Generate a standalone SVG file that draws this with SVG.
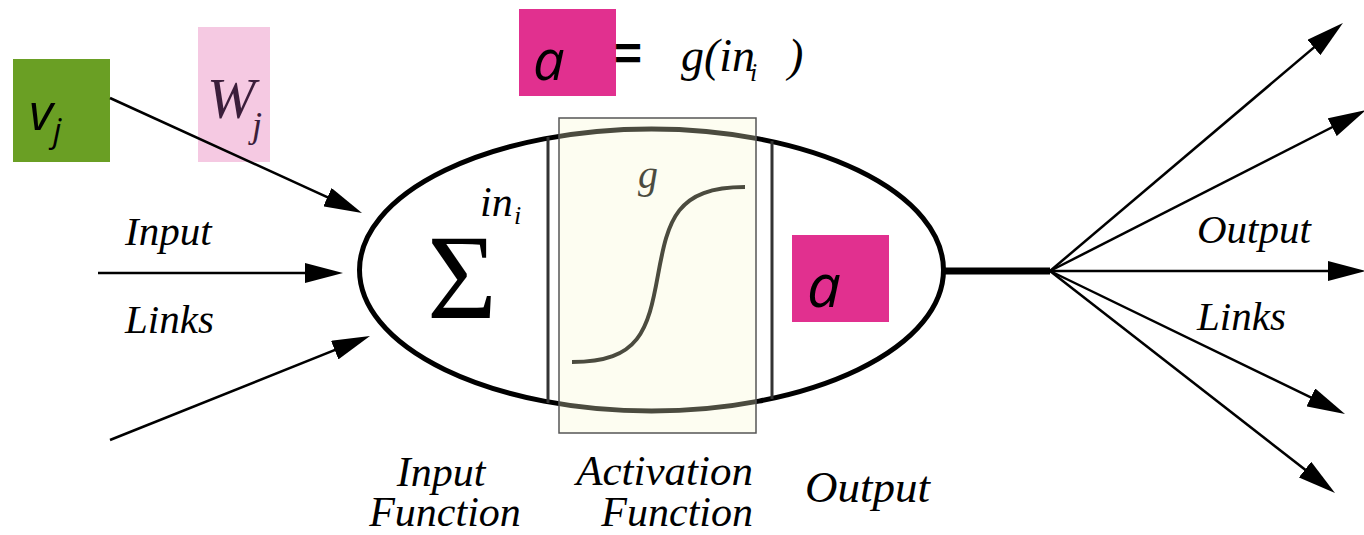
<svg xmlns="http://www.w3.org/2000/svg" width="1364" height="535" viewBox="0 0 1364 535">
  <style>
    .it { font-family: 'Liberation Serif', 'Times New Roman', 'DejaVu Serif', serif; font-style: italic; fill: #000; }
    .rm { font-family: 'Liberation Serif', 'Times New Roman', 'DejaVu Serif', serif; fill: #000; }
    .sans { font-family: 'Open Sans', 'Noto Sans', sans-serif; font-style: italic; fill: #000; }
    .arrow { stroke: #000; stroke-width: 2.5; fill: none; marker-end: url(#ah); }
  </style>
  <defs>
    <marker id="ah" viewBox="0 0 38 20" refX="28" refY="10" markerWidth="38" markerHeight="20" markerUnits="userSpaceOnUse" orient="auto">
      <path d="M0,0 L38,10 L0,20 Z" fill="#000"/>
    </marker>
  </defs>

  <rect width="1364" height="535" fill="#fff"/>

  <!-- weight label box -->
  <g id="weight-label">
    <rect x="198" y="27" width="72" height="135" fill="#f5c9e2"/>
    <text class="it" x="207" y="118" font-size="58" style="fill:#3b1e3b">W<tspan x="252" y="137" font-size="36">j</tspan></text>
  </g>

  <!-- input value box -->
  <g id="input-value">
    <rect x="13" y="59" width="97" height="103" fill="#6a9f24"/>
    <text class="sans" x="29" y="130" font-size="52">v<tspan x="53" y="142" font-size="33">j</tspan></text>
  </g>

  <!-- connectors -->
  <g id="connectors">
    <line class="arrow" x1="110" y1="98" x2="352.9" y2="208.8"/>
    <line class="arrow" x1="98" y1="273" x2="333" y2="273"/>
    <line class="arrow" x1="110" y1="440" x2="360.7" y2="339.7"/>
    <line x1="944" y1="271" x2="1050" y2="271" stroke="#000" stroke-width="7"/>
    <line class="arrow" x1="1050" y1="271" x2="1335.3" y2="29.4"/>
    <line class="arrow" x1="1050" y1="271" x2="1357.1" y2="114.5"/>
    <line class="arrow" x1="1050" y1="271" x2="1356" y2="271"/>
    <line class="arrow" x1="1050" y1="271" x2="1336" y2="409.6"/>
    <line class="arrow" x1="1050" y1="271" x2="1327.1" y2="486.8"/>
  </g>

  <!-- neuron unit -->
  <g id="neuron">
    <ellipse cx="651.5" cy="270" rx="292" ry="141" fill="none" stroke="#000" stroke-width="5"/>
    <line x1="548" y1="137" x2="548" y2="403" stroke="#333" stroke-width="3"/>
    <line x1="772" y1="141" x2="772" y2="399" stroke="#333" stroke-width="3"/>
    <text class="rm" x="462" y="318" font-size="120" text-anchor="middle">Σ</text>
    <text class="it" x="480" y="216" font-size="42">in<tspan x="514" y="224" font-size="26">i</tspan></text>
    <path d="M572,362 C640,362 648,330 658,275 C668,220 676,187 745,187" fill="none" stroke="#000" stroke-width="4"/>
    <text class="it" x="638" y="188" font-size="40">g</text>
  </g>

  <!-- activation function overlay -->
  <g id="activation-box">
    <rect x="559" y="118" width="197" height="315" fill="#f8f8d0" fill-opacity="0.3" stroke="#555" stroke-width="1.5"/>
  </g>

  <!-- output value box -->
  <g id="output-value">
    <rect x="792" y="235" width="97" height="87" fill="#e1308f"/>
    <text class="sans" x="807" y="307" font-size="60">a</text>
  </g>

  <!-- equation -->
  <g id="equation">
    <rect x="519" y="9" width="97" height="87" fill="#e1308f"/>
    <text class="sans" x="533" y="80" font-size="56">a</text>
    <text x="614" y="70" font-family="Liberation Sans, Arial, sans-serif" font-size="48" font-weight="bold">=</text>
    <text class="it" x="681" y="71" font-size="46">g(in<tspan x="750" y="81" font-size="26">i</tspan><tspan x="788" y="71">)</tspan></text>
  </g>

  <!-- labels -->
  <g id="input-links-label">
    <text class="it" x="125" y="245" font-size="41">Input</text>
    <text class="it" x="125" y="333" font-size="41">Links</text>
  </g>
  <g id="output-links-label">
    <text class="it" x="1197" y="243" font-size="41">Output</text>
    <text class="it" x="1197" y="330" font-size="41">Links</text>
  </g>
  <g id="input-function-label">
    <text class="it" x="441" y="486" font-size="42" text-anchor="middle">Input</text>
    <text class="it" x="445" y="526" font-size="42" text-anchor="middle">Function</text>
  </g>
  <g id="activation-function-label">
    <text class="it" x="753" y="485" font-size="43" text-anchor="end">Activation</text>
    <text class="it" x="753" y="526" font-size="42" text-anchor="end">Function</text>
  </g>
  <g id="output-label">
    <text class="it" x="805" y="502" font-size="45">Output</text>
  </g>
</svg>
